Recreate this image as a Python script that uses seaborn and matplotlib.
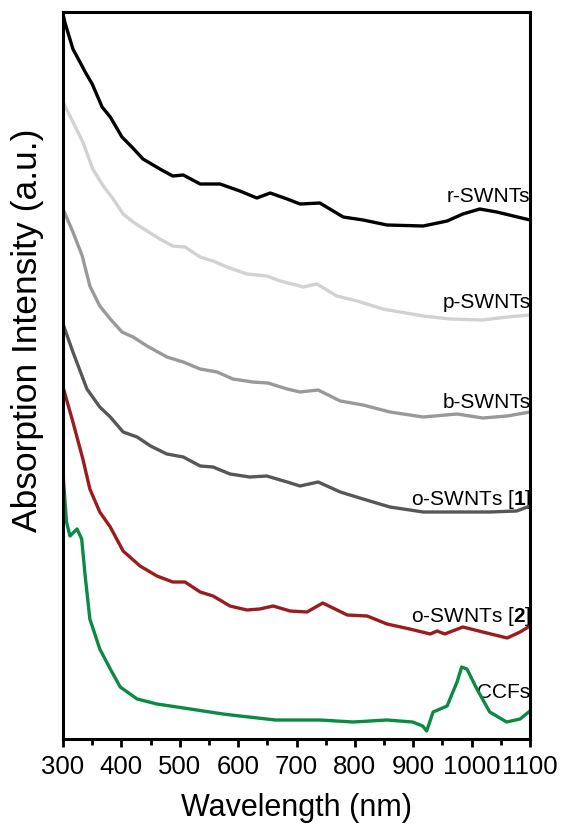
import matplotlib
matplotlib.use("Agg")
import matplotlib.pyplot as plt
import seaborn as sns
import pandas as pd
from matplotlib.ticker import MultipleLocator

# ---- data (arbitrary units) ----
r_wl = [300, 303, 317, 329, 338, 350, 367, 381, 401, 418, 437, 466, 488, 506, 535, 569, 603, 632, 655, 684, 706,
        740, 780, 814, 855, 917, 958, 985, 1014, 1043, 1100]
r_val = [7.25, 7.17, 6.90, 6.77, 6.67, 6.55, 6.32, 6.22, 6.02, 5.92, 5.80, 5.70, 5.63, 5.64, 5.55, 5.55, 5.48, 5.41,
         5.46, 5.40, 5.35, 5.36, 5.22, 5.19, 5.14, 5.13, 5.18, 5.25, 5.30, 5.27, 5.19]

p_wl = [300, 317, 334, 351, 369, 386, 403, 420, 444, 466, 488, 509, 535, 557, 581, 615, 649, 672, 706,
        711, 735, 769, 804, 848, 917, 963, 1019, 1061, 1100]
p_val = [6.37, 6.17, 5.97, 5.70, 5.53, 5.40, 5.25, 5.17, 5.08, 5.00, 4.93, 4.92, 4.82, 4.78, 4.72, 4.65, 4.63, 4.58, 4.53,
         4.52, 4.55, 4.43, 4.38, 4.30, 4.23, 4.20, 4.19, 4.22, 4.24]

b_wl = [300, 317, 333, 346, 363, 381, 401, 420, 444, 478, 506, 535, 564, 591, 625, 651, 684, 706,
        737, 775, 814, 860, 917, 975, 1019, 1061, 1100]
b_val = [5.30, 5.07, 4.83, 4.53, 4.33, 4.20, 4.07, 4.02, 3.93, 3.82, 3.77, 3.70, 3.67, 3.60, 3.57, 3.56, 3.50, 3.47,
         3.49, 3.38, 3.34, 3.27, 3.22, 3.25, 3.21, 3.23, 3.27]

o1_wl = [300, 317, 341, 363, 381, 403, 427, 450, 478, 506, 535, 557, 586, 620, 649, 684, 706,
         737, 775, 814, 860, 917, 975, 1031, 1077, 1100]
o1_val = [4.15, 3.87, 3.50, 3.32, 3.22, 3.07, 3.02, 2.93, 2.85, 2.82, 2.73, 2.72, 2.65, 2.62, 2.63, 2.57, 2.53,
          2.57, 2.47, 2.40, 2.32, 2.27, 2.27, 2.27, 2.28, 2.33]

o2_wl = [300, 317, 334, 346, 363, 381, 403, 432, 461, 488, 509, 535, 557, 586, 615, 637, 660, 689,
         718, 745, 787, 821, 855, 894, 929, 941, 954, 985, 1019, 1061, 1083, 1100]
o2_val = [3.52, 3.17, 2.80, 2.50, 2.27, 2.12, 1.88, 1.73, 1.63, 1.57, 1.57, 1.47, 1.43, 1.33, 1.29, 1.30, 1.33, 1.28,
          1.27, 1.36, 1.24, 1.23, 1.15, 1.10, 1.05, 1.08, 1.05, 1.12, 1.07, 1.01, 1.07, 1.13]

c_wl = [300, 306, 312, 324, 332, 338, 346, 363, 381, 398, 427, 461, 518, 574, 603, 664, 740, 797,
        855, 899, 916, 923, 934, 958, 975, 983, 992, 1009, 1031, 1060, 1083, 1100]
c_val = [2.65, 2.17, 2.03, 2.10, 2.00, 1.63, 1.20, 0.90, 0.70, 0.52, 0.40, 0.35, 0.30, 0.25, 0.23, 0.19, 0.19, 0.17,
         0.19, 0.17, 0.13, 0.08, 0.27, 0.33, 0.57, 0.72, 0.70, 0.50, 0.27, 0.17, 0.20, 0.28]

names = ["r-SWNTs", "p-SWNTs", "b-SWNTs", r"o-SWNTs [$\mathbf{1}$]", r"o-SWNTs [$\mathbf{2}$]", "CCFs"]
label_y = [5.38, 4.32, 3.32, 2.35, 1.18, 0.42]
colors = ["#000000", "#d2d2d2", "#999999", "#575757", "#9b1b1f", "#0b8a44"]
xticks = [300, 400, 500, 600, 700, 800, 900, 1000, 1100]

series = [(r_wl, r_val), (p_wl, p_val), (b_wl, b_val), (o1_wl, o1_val), (o2_wl, o2_val), (c_wl, c_val)]

sns.set_style("ticks")
plt.rcParams["font.family"] = ["Liberation Sans", "DejaVu Sans"]
plt.rcParams["mathtext.fontset"] = "custom"
plt.rcParams["mathtext.bf"] = "Liberation Sans:bold"
plt.rcParams["mathtext.rm"] = "Liberation Sans"
plt.rcParams["text.color"] = "black"
plt.rcParams["axes.labelcolor"] = "black"
plt.rcParams["xtick.color"] = "black"
plt.rcParams["ytick.color"] = "black"

fig = plt.figure(figsize=(5.62, 8.28), dpi=100)
ax = fig.add_axes([63 / 562, 88 / 828, 467 / 562, 727 / 828])

for (wl, val), name, col in zip(series, names, colors):
    df = pd.DataFrame({"wl": wl, "val": val})
    sns.lineplot(data=df, x="wl", y="val", ax=ax, color=col, lw=2.4, sort=False)

for name, ly in zip(names, label_y):
    ax.text(1101, ly, name, ha="right", va="baseline", fontsize=15, zorder=1, color="black")

ax.set_xlim(300, 1100)
ax.set_ylim(0, 7.27)
ax.set_xticks(xticks)
ax.set_xticklabels([str(t) for t in xticks])
ax.xaxis.set_minor_locator(MultipleLocator(50))
ax.set_yticks([])
ax.tick_params(axis="x", which="major", direction="out", length=6, width=2, labelsize=18.5, pad=5,
               top=False, labelcolor="black")
ax.tick_params(axis="x", which="minor", direction="out", length=4, width=2, top=False)
for s in ax.spines.values():
    s.set_visible(True)
    s.set_linewidth(2.2)
    s.set_color("black")
    s.set_zorder(5)
ax.set_xlabel("Wavelength (nm)", fontsize=22, labelpad=10)
ax.set_ylabel("Absorption Intensity (a.u.)", fontsize=25.5)
ax.yaxis.set_label_coords(-0.04, (740 - 330) / 727)

fig.savefig("out.png", dpi=100)
